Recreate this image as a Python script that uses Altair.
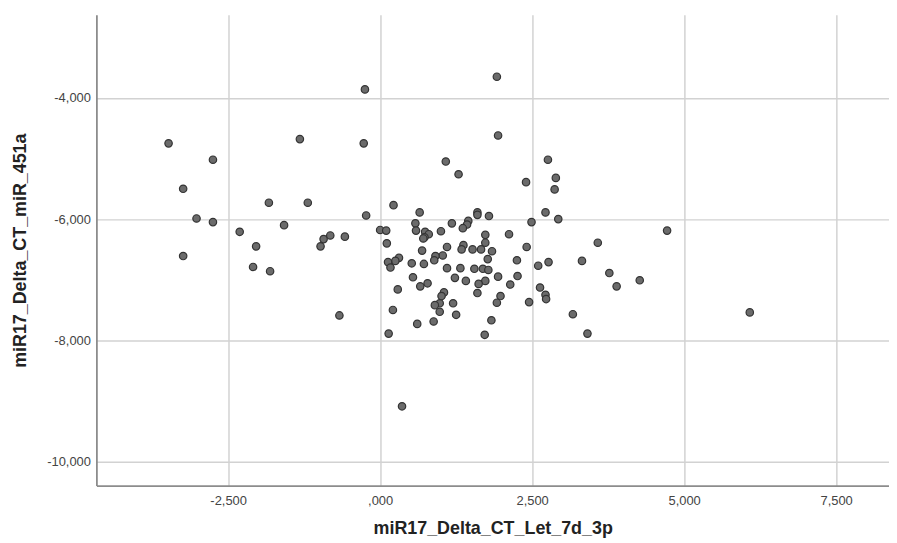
import altair as alt
import pandas as pd

# miR17_Delta_CT_Let_7d_3p values
x_vals = [
    -0.25, -3.48, -1.32, -0.27, -2.75, -3.24, -1.83, -1.19, -0.23, -3.02,
    -2.75, -2.31, -1.58, -2.04, -0.98, -0.93, -0.82, -0.58,
    -3.24, -2.09, -1.81, -0.67,
    1.92, 1.94, 1.08, 1.29, 2.76, 2.89,
    2.40, 2.87, 0.22, 0.65, 1.60, 1.60, 1.79, 2.72, 2.93, 2.49,
    0.58, 1.18, 1.45, 1.43, 1.36, 0.00, 0.10, 0.59, 0.74, 0.80,
    0.73, 0.71, 1.00, 1.73, 2.12, 3.58, 0.11, 1.73, 1.37, 1.10,
    1.34, 1.52, 1.66, 1.84, 0.69, 2.41, 1.03, 0.91, 0.89, 0.31,
    0.25, 0.13, 0.17, 0.52, 0.72, 1.77, 2.25, 2.60, 2.77, 3.32,
    1.10, 1.32, 1.55, 1.69, 1.78, 0.54, 1.23, 1.41, 1.73, 1.94,
    2.26, 0.78, 0.66, 1.62, 2.14, 0.29, 1.60, 2.63, 2.72, 2.73,
    1.05, 1.01, 0.98, 0.90, 0.98, 1.20, 1.25, 1.98, 1.92, 2.45,
    0.21, 0.61, 0.88, 1.83, 3.17, 0.14, 1.72, 3.41,
    0.36,
    4.72, 3.77, 3.89, 4.27, 6.08,
]

# miR17_Delta_CT_miR_451a values
y_vals = [
    -3.86, -4.75, -4.68, -4.75, -5.02, -5.50, -5.73, -5.73, -5.94, -5.99,
    -6.05, -6.21, -6.10, -6.45, -6.45, -6.33, -6.27, -6.29,
    -6.61, -6.79, -6.86, -7.59,
    -3.65, -4.62, -5.05, -5.26, -5.02, -5.32,
    -5.39, -5.51, -5.77, -5.89, -5.89, -5.93, -5.95, -5.89, -6.00, -6.05,
    -6.07, -6.07, -6.03, -6.09, -6.15, -6.18, -6.19, -6.19, -6.21, -6.25,
    -6.30, -6.32, -6.20, -6.26, -6.25, -6.39, -6.40, -6.39, -6.43, -6.46,
    -6.50, -6.50, -6.50, -6.53, -6.52, -6.46, -6.60, -6.61, -6.68, -6.64,
    -6.69, -6.71, -6.80, -6.73, -6.74, -6.66, -6.68, -6.77, -6.71, -6.69,
    -6.81, -6.81, -6.82, -6.82, -6.84, -6.96, -6.97, -7.02, -7.02, -6.95,
    -6.94, -7.06, -7.11, -7.07, -7.08, -7.16, -7.22, -7.13, -7.25, -7.32,
    -7.21, -7.27, -7.39, -7.42, -7.53, -7.39, -7.58, -7.27, -7.38, -7.37,
    -7.50, -7.73, -7.69, -7.67, -7.57, -7.89, -7.91, -7.89,
    -9.09,
    -6.19, -6.89, -7.11, -7.01, -7.54,
]

x_ticks = [-2.5, 0.0, 2.5, 5.0, 7.5]
y_ticks = [-10.0, -8.0, -6.0, -4.0]
x_title = "miR17_Delta_CT_Let_7d_3p"
y_title = "miR17_Delta_CT_miR_451a"

df = pd.DataFrame({"x": x_vals, "y": y_vals})

label_expr = ("datum.value == 0 ? ',000' : (datum.value < 0 ? '-' : '') + "
              "replace(format(abs(datum.value), ',.3f'), '.', ',')")

W, H = 798, 474

chart = alt.Chart(df).mark_point(
    shape="circle", filled=True, fill="#6b6b6b", stroke="#333333",
    strokeWidth=1.2, size=56, opacity=1
).encode(
    x=alt.X("x:Q", scale=alt.Scale(domain=[-4.667, 8.37], nice=False, zero=False),
            axis=alt.Axis(values=x_ticks, title=x_title, labelExpr=label_expr,
                          grid=True, ticks=False, labelPadding=9,
                          titleY=43, titleBaseline="middle")),
    y=alt.Y("y:Q", scale=alt.Scale(domain=[-10.398, -2.628], nice=False, zero=False),
            axis=alt.Axis(values=y_ticks, title=y_title, labelExpr=label_expr,
                          grid=True, ticks=False, labelPadding=6,
                          titleX=-76, titleY=H / 2, titleAngle=-90,
                          titleAlign="center", titleBaseline="middle")),
).properties(
    width=W, height=H,
    autosize=alt.AutoSizeParams(type="none"),
    padding={"left": 89, "top": 5, "right": 0, "bottom": 56},
).configure_view(
    stroke=None
).configure_axis(
    gridColor="#d2d2d2", gridWidth=1.5,
    domainColor="#8c8c8c", domainWidth=1.8,
    labelFont="Liberation Sans", labelFontSize=13, labelColor="#444444",
    titleFont="Liberation Sans", titleFontSize=18, titleFontWeight="bold",
    titleColor="#222222",
)

chart.save("out.html", embed_options={"renderer": "svg", "actions": False})
